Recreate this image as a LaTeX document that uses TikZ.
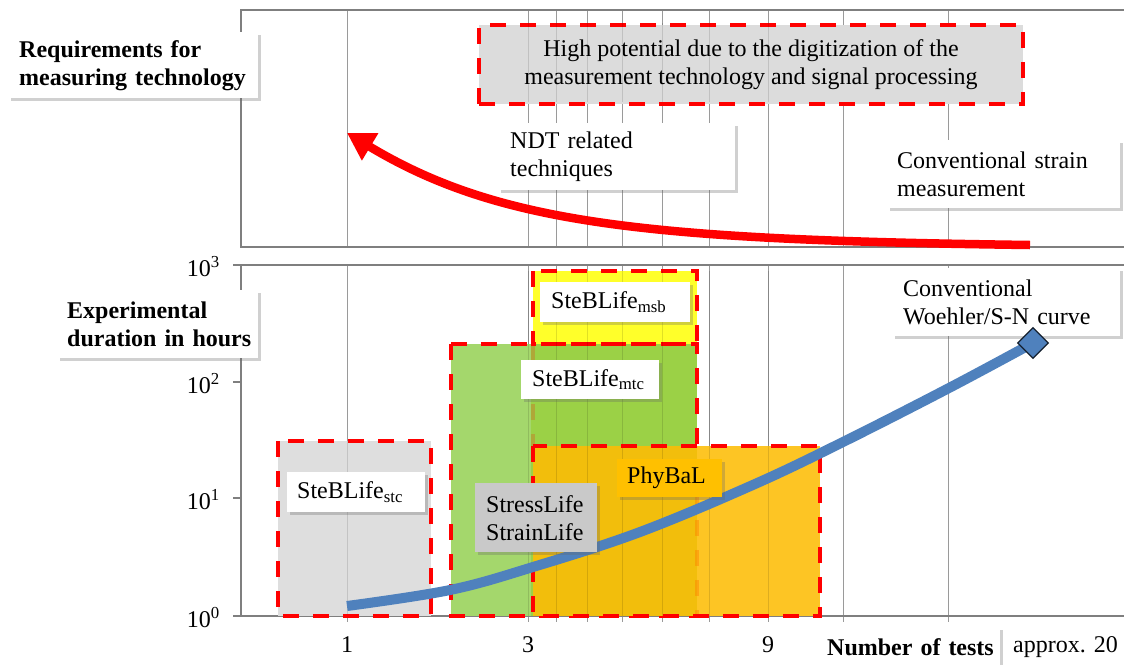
\documentclass[tikz,border=0pt]{standalone}
\usepackage{fontspec}
\setmainfont{Liberation Serif}
\usetikzlibrary{shapes.geometric,shadows,arrows.meta}
\newcommand{\bigfnt}{\fontsize{24}{28}\selectfont}
\definecolor{gridc}{HTML}{9A9A9A}
\definecolor{framec}{HTML}{7F7F7F}
\definecolor{boxgray}{HTML}{DCDCDC}
\definecolor{stcgray}{HTML}{DEDEDE}
\definecolor{greenA}{HTML}{A4D76C}
\definecolor{greenB}{HTML}{9BD146}
\definecolor{yellowA}{HTML}{FFFF2A}
\definecolor{orangeA}{HTML}{F2BE0C}
\definecolor{orangeB}{HTML}{FDC524}
\definecolor{phyfill}{HTML}{FFC000}
\definecolor{slgray}{HTML}{C9C9C9}
\definecolor{blueC}{HTML}{4F81BD}
\begin{document}
\begin{tikzpicture}[x=1pt,y=-1pt,font=\bigfnt,
  lbl/.style={fill=white, drop shadow={shadow xshift=2.5pt,shadow yshift=-2.5pt,opacity=0.3,fill=black!60},
    inner xsep=10pt, inner ysep=0pt, align=left, anchor=north west},
  reddash/.style={draw=red, line width=4pt, dash pattern=on 16pt off 14pt},
  gridline/.style={draw=gridc, line width=1pt},
  faintgrid/.style={draw=black, opacity=0.12, line width=1pt},
  frameline/.style={draw=framec, line width=1.6pt},
  ticklbl/.style={inner sep=0pt}]
\useasboundingbox (0,0) rectangle (1124,664);
\fill[white] (0,0) rectangle (1124,664);

% grid lines
\foreach \x in {347,528,556,587,622,662,709,768,843,948}{
  \draw[gridline] (\x,10) -- (\x,247);
  \draw[gridline] (\x,265) -- (\x,622);
}
% frames
\draw[frameline] (1124,10) -- (241,10) -- (241,247) -- (1124,247);
\draw[frameline] (1124,265) -- (233,265);
\draw[frameline] (241,265) -- (241,616);
\draw[frameline] (233,616) -- (1124,616);
\foreach \y in {382,498}{\draw[frameline] (233,\y) -- (241,\y);}

% area fills
\fill[stcgray] (278,441) rectangle (431,616);
\fill[yellowA] (533,271) rectangle (697,344);
\fill[greenA] (451,344) rectangle (531,616);
\fill[greenB] (531,344) rectangle (697,616);
\draw[draw=red, opacity=0.2, line width=4pt, dash pattern=on 16pt off 14pt] (533,344) -- (533,446);

% top potential box
\node[draw=red, line width=4pt, dash pattern=on 16pt off 14pt, fill=boxgray,
  minimum width=544pt, minimum height=79pt, align=center, inner sep=0pt] (pot) at (751,64.5)
  {High potential due to the digitization of the\\measurement technology and signal processing};

% borders of yellow and green areas
\draw[reddash] (533,271) rectangle (697,344);
\draw[reddash] (451,344) rectangle (697,616);

% orange area
\fill[orangeA] (533,446) rectangle (697,616);
\fill[orangeB] (697,446) rectangle (820,616);
\draw[draw=orange, opacity=0.45, line width=4pt, dash pattern=on 16pt off 14pt] (697,460) -- (697,616);

% faint grid visible through fills
\foreach \x in {528,556,587,622,662,709,768}{
  \draw[faintgrid] (\x,23) -- (\x,102);
  \draw[faintgrid] (\x,271) -- (\x,616);
}
\draw[faintgrid] (347,441) -- (347,616);

\draw[reddash] (533,446) rectangle (820,616);
\draw[reddash] (278,441) rectangle (431,616);

% red arrow
\draw[red, line width=8.5pt, -{Triangle[length=27pt,width=30pt]}]
  (1030,245) .. controls (650,240) and (500,225) .. (347,133);

% blue curve
\draw[blueC, line width=10pt] plot[smooth, tension=0.6] coordinates
  {(347,606) (450,590) (533,567) (640,532) (755,484) (843,442) (949,388) (1033,343)};

% labels
\node[lbl, font=\bigfnt\bfseries, inner xsep=11pt, text width=228pt, minimum height=66pt] (req) at (8,32)
  {\mbox{Requirements for}\\\mbox{measuring technology}};
\node[lbl, font=\bigfnt\bfseries, text width=181pt, minimum height=68pt] (exp) at (57,290)
  {\mbox{Experimental}\\\mbox{duration in hours}};
\node[lbl, inner xsep=12pt, text width=213pt, minimum height=67pt] (ndt) at (498,123)
  {NDT related\\techniques};
\node[lbl, text width=213pt, minimum height=68pt] (cs) at (887,140)
  {\mbox{Conventional strain}\\measurement};
\node[lbl, inner xsep=11pt, text width=206pt, minimum height=68pt] (woe) at (892,268)
  {Conventional\\\mbox{Woehler/S-N curve}};
\node[lbl, text width=118pt, minimum height=40pt] (stc) at (287,472)
  {\mbox{SteBLife\textsubscript{stc}}};
\node[lbl, inner xsep=11pt, text width=128pt, minimum height=40pt] (msb) at (540,282)
  {\mbox{SteBLife\textsubscript{msb}}};
\node[lbl, inner xsep=11pt, text width=116pt, minimum height=39pt] (mtc) at (521,360)
  {\mbox{SteBLife\textsubscript{mtc}}};
\node[lbl, fill=phyfill, text width=85pt, minimum height=38pt] (phy) at (617,459)
  {PhyBaL};
\node[lbl, fill=slgray, inner xsep=11pt, text width=100pt, minimum height=69pt] (sl) at (475,483)
  {\mbox{StressLife}\\\mbox{StrainLife}};
\node[lbl, font=\bigfnt\bfseries, inner xsep=9pt, text width=164pt, minimum height=40pt] (nt) at (818,627)
  {\mbox{Number of tests}};
\node[ticklbl, anchor=west] (apx) at (1013,647) {approx. 20};

% end marker of the curve
\node[diamond, fill=blueC, draw=black!75!blueC, line width=1.2pt, minimum size=31pt, inner sep=0pt] (wd) at (1033,343) {};

% axis tick labels
\node[ticklbl, anchor=east] (y3) at (220,267) {10\textsuperscript{3}};
\node[ticklbl, anchor=east] (y2) at (220,384) {10\textsuperscript{2}};
\node[ticklbl, anchor=east] (y1) at (220,500) {10\textsuperscript{1}};
\node[ticklbl, anchor=east] (y0) at (220,618) {10\textsuperscript{0}};
\node[ticklbl] (x1) at (347,645) {1};
\node[ticklbl] (x3) at (528,645) {3};
\node[ticklbl] (x9) at (768,645) {9};
\end{tikzpicture}
\end{document}
